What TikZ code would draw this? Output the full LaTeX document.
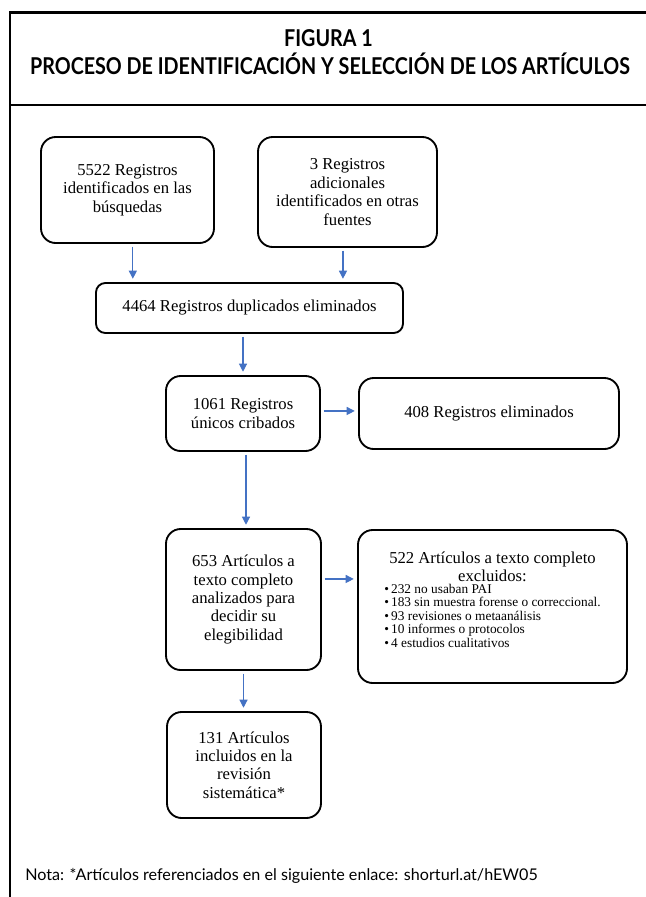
\documentclass[tikz,border=0pt]{standalone}
\usepackage{fontspec}
\setmainfont{Liberation Serif}
\newfontfamily\titlefont[FakeStretch=0.85]{Lato}
\newfontfamily\notefont{Lato}
\usetikzlibrary{arrows.meta}
\definecolor{arrowblue}{RGB}{68,114,196}

\begin{document}
\begin{tikzpicture}[x=0.75pt,y=-0.75pt,
  box/.style={draw,line width=1.4pt,rounded corners=11pt,align=center,inner sep=2pt,
    font=\fontsize{12.5}{13.8}\selectfont},
  flow/.style={arrowblue,line width=0.8pt,-{Triangle[width=6pt,length=6pt]},
    shorten <=2pt,shorten >=2.5pt}]
\useasboundingbox (0,0) rectangle (646,897);

% frame and heading
\draw[line width=2.2pt] (646,12.5) -- (10,12.5) -- (10,897);
\draw[line width=2.2pt] (10,105) -- (646,105);
\node[font=\titlefont\bfseries\fontsize{17.4}{20}\selectfont,anchor=base] (figno) at (328.5,46) {FIGURA 1};
\node[font=\titlefont\bfseries\fontsize{17.4}{20}\selectfont,anchor=base] (title) at (330,74) {PROCESO DE IDENTIFICACIÓN Y SELECCIÓN DE LOS ARTÍCULOS};

% boxes
\node[box,minimum width=129.75pt,minimum height=79.5pt] (found) at (127.5,190) {5522 Registros\\identificados en las\\búsquedas};
\node[box,minimum width=134.25pt,minimum height=82.5pt] (extra) at (347.5,192) {3 Registros\\adicionales\\identificados en otras\\fuentes};
\node[box,rounded corners=7pt,minimum width=230.25pt,minimum height=37.5pt] (dupl) at (249.5,308) {4464 Registros duplicados eliminados};
\node[box,minimum width=115.5pt,minimum height=56.25pt] (screen) at (243,413.5) {1061 Registros\\únicos cribados};
\node[box,minimum width=195pt,minimum height=53.25pt] (removed) at (489,413.5) {408 Registros eliminados};
\node[box,minimum width=116.25pt,minimum height=105.75pt] (full) at (243.5,599.5) {653 Artículos a\\texto completo\\analizados para\\decidir su\\elegibilidad};
\node[box,minimum width=201.75pt,minimum height=114.75pt] (excl) at (492.5,606.5) {522 Artículos a texto completo\\excluidos:\\[-5pt]
  {\fontsize{10}{10.2}\selectfont\begin{tabular}[t]{@{}l@{}}
  \textbullet\,232 no usaban PAI\\
  \textbullet\,183 sin muestra forense o correccional.\\
  \textbullet\,93 revisiones o metaanálisis\\
  \textbullet\,10 informes o protocolos\\
  \textbullet\,4 estudios cualitativos\rule[-10.5pt]{0pt}{1pt}
  \end{tabular}}};
\node[box,minimum width=115.5pt,minimum height=79.5pt] (incl) at (244,765) {131 Artículos\\incluidos en la\\revisión\\sistemática*};

% arrows
\draw[flow] ([xshift=4pt]found.south) -- ([xshift=4pt]found.south |- dupl.north);
\draw[flow] ([xshift=-3.4pt]extra.south) -- ([xshift=-3.4pt]extra.south |- dupl.north);
\draw[flow] (dupl.south -| screen.north) -- (screen.north);
\draw[flow] ([yshift=1.9pt]screen.east) -- ([yshift=1.9pt]screen.east -| removed.west);
\draw[flow] ([xshift=2.25pt]screen.south) -- ([xshift=2.25pt]screen.south |- full.north);
\draw[flow] ([yshift=15.4pt]full.east) -- ([yshift=15.4pt]full.east -| excl.west);
\draw[flow] (full.south) -- (full.south |- incl.north);

\node[font=\notefont\fontsize{12.1}{14}\selectfont,anchor=base west,inner sep=0pt] (note) at (25,880) {Nota: *Artículos referenciados en el siguiente enlace: shorturl.at/hEW05};
\end{tikzpicture}
\end{document}
